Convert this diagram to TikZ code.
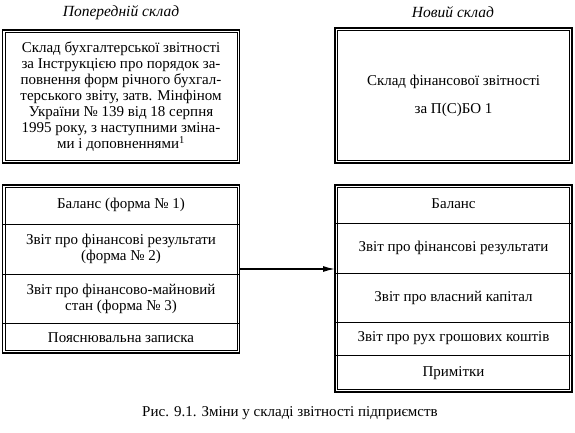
\documentclass[tikz,border=0pt]{standalone}
\usepackage{fontspec}
\setmainfont{Liberation Serif}
\usetikzlibrary{arrows.meta,positioning}

\begin{document}
\begin{tikzpicture}[x=1pt,y=-1pt,>={Latex[length=12pt,width=6pt]},font=\fontsize{15}{16}\selectfont]
  \tikzstyle{panel}=[inner sep=0pt,outer sep=0pt,align=center]
  \tikzstyle{cell}=[minimum width=237pt,align=center,inner sep=0pt,outer sep=0pt]
  \tikzstyle{head}=[font=\fontsize{15.5}{16}\selectfont\itshape]
  \useasboundingbox (0,0) rectangle (575,433);
  \node[head] (oldhead) at (121,13) {Попередній склад};
  \node[head] (newhead) at (453,12) {Новий склад};
  \node[panel,minimum width=237pt,minimum height=133pt] (oldtop) at (121,96.5)
    {Склад бухгалтерської звітності\\за Інструкцією про порядок за-\\повнення форм річного бухгал-\\терського звіту, затв. Мінфіном\\України № 139 від 18 серпня\\1995 року, з наступними зміна-\\ми і доповненнями\textsuperscript{1}};
  \node[panel,minimum width=237pt,minimum height=135pt] (newtop) at (453.5,95.5)
    {Склад фінансової звітності\\[12pt]за П(С)БО 1};
  % old list of forms
  \node[panel,minimum width=237pt,minimum height=168pt] (oldlist) at (121,269) {};
  \node[cell,minimum height=39pt,below=0pt of oldlist.north] (bal1) {Баланс (форма № 1)};
  \node[cell,minimum height=50pt,below=0pt of bal1] (fin1) {Звіт про фінансові результати\\(форма № 2)};
  \node[cell,minimum height=49pt,below=0pt of fin1] (mayn) {Звіт про фінансово-майновий\\стан (форма № 3)};
  \node[cell,minimum height=30pt,below=0pt of mayn] (zap) {Пояснювальна записка};
  \foreach \c in {bal1,fin1,mayn}
    \draw (\c.south west) -- (\c.south east);
  % new list of forms
  \node[panel,minimum width=237pt,minimum height=207pt] (newlist) at (453.5,288.5) {};
  \node[cell,minimum height=38pt,below=0pt of newlist.north] (bal2) {Баланс};
  \node[cell,minimum height=50pt,below=0pt of bal2] (fin2) {Звіт про фінансові результати};
  \node[cell,minimum height=49pt,below=0pt of fin2] (cap) {Звіт про власний капітал};
  \node[cell,minimum height=33pt,below=0pt of cap] (cash) {Звіт про рух грошових коштів};
  \node[cell,minimum height=37pt,below=0pt of cash] (notes) {Примітки};
  \foreach \c in {bal2,fin2,cap,cash}
    \draw (\c.south west) -- (\c.south east);
  % double frames
  \foreach \b in {oldtop,newtop,oldlist,newlist}{
    \draw[line width=1.4pt] (\b.north west) rectangle (\b.south east);
    \draw[line width=0.5pt] ([shift={(2.4pt,-2.4pt)}]\b.north west) rectangle ([shift={(-2.4pt,2.4pt)}]\b.south east);
  }
  \draw[->,line width=1.4pt] (oldlist.east) -- (oldlist.east -| newlist.west);
  \node (caption) at (290,413) {Рис. 9.1. Зміни у складі звітності підприємств};
\end{tikzpicture}
\end{document}
